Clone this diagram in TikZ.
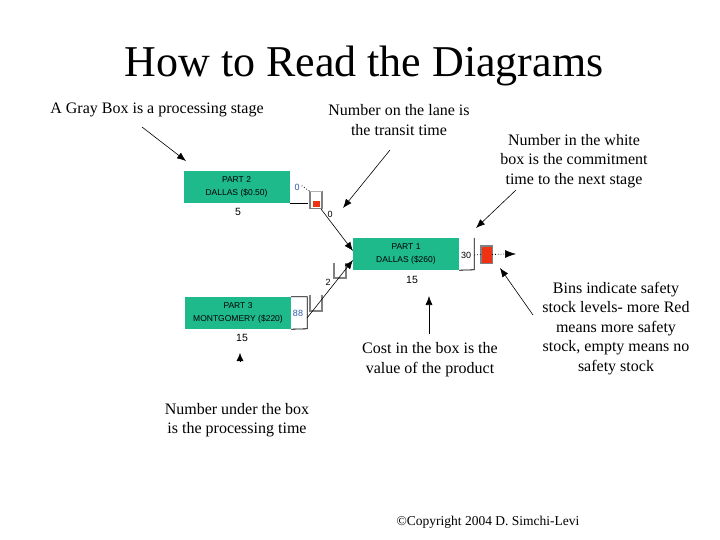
\documentclass[tikz,border=0pt]{standalone}
\usepackage{fontspec}
\setmainfont{Liberation Serif}
\newfontfamily\boxfont{Liberation Sans}
\usetikzlibrary{arrows.meta}
\definecolor{stagegreen}{RGB}{30,186,140}
\definecolor{binred}{RGB}{240,50,20}
\definecolor{bingray}{RGB}{128,128,128}
\definecolor{numblue}{RGB}{40,90,170}
\tikzset{
  stagebox/.style={rectangle, fill=stagegreen, minimum width=106pt, minimum height=32pt, inner sep=0pt,
     font=\boxfont\fontsize{8.5}{12.5}\selectfont, align=center},
  note/.style={font=\fontsize{16}{19.5}\selectfont, align=center, inner sep=0pt},
  numlbl/.style={font=\boxfont\fontsize{10.5}{12}\selectfont, inner sep=0pt},
  small/.style={font=\boxfont\fontsize{9}{10}\selectfont, inner sep=0pt},
  binnode/.style={rectangle, minimum width=12pt, minimum height=16pt, inner sep=0pt},
  binline/.style={draw=bingray, line width=1.6pt},
  pointer/.style={-{Latex[length=9pt,width=7pt]}, line width=0.6pt},
  lane/.style={-{Latex[length=9pt,width=7pt]}, line width=0.6pt},
  dots/.style={dotted, line width=0.8pt},
}
\begin{document}
\begin{tikzpicture}[x=1pt,y=-1pt]
\useasboundingbox[fill=white] (0,0) rectangle (720,540);

% title
\node[font=\fontsize{44}{50}\selectfont, inner sep=0pt] (title) at (364,66) {How to Read the Diagrams};

% stages
\node[stagebox] (p2) at (236.5,187) {PART 2\\DALLAS (\$0.50)};
\node[stagebox] (p1) at (406,254) {PART 1\\DALLAS (\$260)};
\node[stagebox] (p3) at (238,313) {PART 3\\MONTGOMERY (\$220)};

% white boxes
\draw[line width=0.8pt] (p2.south east) -- ++(18,0);
\draw[line width=0.8pt] (p1.north east) ++(15,0) coordinate (w1ne) -- ++(0,32) coordinate (w1se) -- (p1.south east);
\draw[line width=0.8pt] (p3.north east) -- ++(16,0) coordinate (w3ne) -- ++(0,32) coordinate (w3se) -- (p3.south east);

% processing times
\node[numlbl] (t2) at (238,212) {5};
\node[numlbl] (t1) at (412,280) {15};
\node[numlbl] (t3) at (242,338) {15};

% commitment times
\node[small, text=numblue] (c2) at (297,187) {0};
\node[small] (c1) at (466,255) {30};
\node[small, text=numblue] (c3) at (298,313) {88};

% bins
\node[binnode, minimum height=17pt] (b2) at (316,200) {};
\fill[binred] (313,201) rectangle (320,207);
\draw[binline] (b2.north west) -- (b2.south west) -- (b2.south east) -- (b2.north east);
\draw[draw=bingray!60, line width=1pt] (b2.north west) -- (b2.north east);
\draw[dots] (c2.north east) ++(2,2) -- (b2.north west);

\node[binnode, minimum height=17pt, minimum width=11pt] (b1) at (486.5,254.5) {};
\fill[binred] (b1.north west) rectangle (b1.south east);
\draw[binline, line width=1.4pt] (b1.north west) rectangle (b1.south east);
\draw[dots] (w1ne |- c1) -- (b1.west);
\coordinate (out1) at (516,254);
\draw[dots] (b1.east) -- (506,254);
\draw[-{Latex[length=11pt,width=8pt]}, line width=0.6pt] (505,254) -- (out1);

\node[binnode, minimum height=15pt] (b3) at (316,303) {};
\draw[binline] (b3.north west) -- (b3.south west) -- (b3.south east) -- (b3.north east);

\node[binnode, minimum height=15pt] (b4) at (340,270.5) {};
\draw[binline] (b4.north west) -- (b4.south west) -- (b4.south east) -- (b4.north east);

% lanes
\coordinate (l2s) at (321,209);
\coordinate (l1in) at (353,251);
\draw[lane] (l2s) -- (l1in);
\node[small] (lt2) at (330,214) {0};
\coordinate (l3s) at (307,318);
\coordinate (l1in2) at (353,260);
\draw[lane] (l3s) -- (l1in2);
\node[small] (lt3) at (328,282) {2};

% annotations
\node[note] (ngray) at (157,110) {A Gray Box is a processing stage};
\coordinate (agray1) at (142,127);
\coordinate (agray2) at (186,161);
\draw[pointer] (agray1) -- (agray2);

\node[note] (nlane) at (399,120) {Number on the lane is\\the transit time};
\coordinate (alane1) at (390,150);
\coordinate (alane2) at (343,208);
\draw[pointer] (alane1) -- (alane2);

\node[note] (nwhite) at (574,161) {Number in the white\\box is the commitment\\time to the next stage};
\coordinate (awhite1) at (516,190);
\coordinate (awhite2) at (476,228);
\draw[pointer] (awhite1) -- (awhite2);

\node[note] (nbins) at (616,328.5) {Bins indicate safety\\stock levels- more Red\\means more safety\\stock, empty means no\\safety stock};
\coordinate (abins1) at (533,315);
\coordinate (abins2) at (500,268);
\draw[pointer] (abins1) -- (abins2);

\node[note] (ncost) at (430,359.5) {Cost in the box is the\\value of the product};
\coordinate (acost1) at (429,334);
\coordinate (acost2) at (429,296);
\draw[pointer] (acost1) -- (acost2);

\node[note] (nunder) at (237,420) {Number under the box\\is the processing time};
\coordinate (aunder1) at (240,362);
\coordinate (aunder2) at (240,353);
\draw[-{Latex[length=8pt,width=7pt]}, line width=0.4pt] (aunder1) -- (aunder2);

\node[font=\fontsize{13.5}{16}\selectfont, inner sep=0pt] (copy) at (488,522) {©Copyright 2004 D. Simchi-Levi};
\end{tikzpicture}
\end{document}
